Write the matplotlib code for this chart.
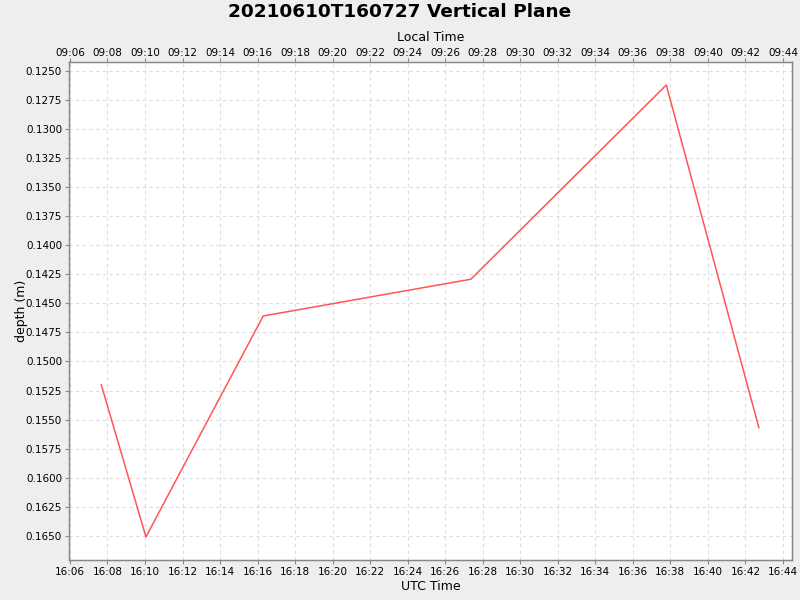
import matplotlib
matplotlib.use("Agg")
import matplotlib.pyplot as plt
import matplotlib.dates as mdates
from datetime import datetime, timedelta

# data (UTC times, depth in metres)
utc_times = ["16:07:40", "16:10:03", "16:16:18", "16:27:22", "16:37:47", "16:42:43"]
depths = [0.15199, 0.16509, 0.14609, 0.14293, 0.12623, 0.15569]
local_offset_hours = -7

day = "2021-06-10 "
times = [datetime.strptime(day + t, "%Y-%m-%d %H:%M:%S") for t in utc_times]

x_start = datetime.strptime(day + "16:05:57", "%Y-%m-%d %H:%M:%S")
x_end = datetime.strptime(day + "16:44:29", "%Y-%m-%d %H:%M:%S")
y_top = 0.12425
y_bottom = 0.16707

fig = plt.figure(figsize=(8, 6), dpi=100, facecolor="#EEEEEE")
ax = fig.add_axes([0.08625, 0.0667, 0.90375, 0.83])
ax.set_facecolor("white")

ax.plot(times, depths, color="#FF5555", linewidth=1.1)

ax.set_xlim(x_start, x_end)
ax.set_ylim(y_bottom, y_top)

ax.xaxis.set_major_locator(mdates.MinuteLocator(byminute=range(0, 60, 2)))
ax.xaxis.set_major_formatter(mdates.DateFormatter("%H:%M"))
ax.set_yticks([0.125 + 0.0025 * i for i in range(17)])
ax.yaxis.set_major_formatter(plt.FormatStrFormatter("%.4f"))

ax.grid(True, color="#DDDDDD", linestyle=(0, (3, 3)), linewidth=0.8)
ax.set_axisbelow(True)

for sp in ax.spines.values():
    sp.set_color("#888888")
    sp.set_linewidth(1)

ax.tick_params(axis="both", labelsize=7.5, length=3, color="#888888", pad=2)
ax.set_xlabel("UTC Time", fontsize=9, labelpad=2)
ax.set_ylabel("depth (m)", fontsize=9, labelpad=-2)

# top axis in local time
ax2 = ax.twiny()
off = timedelta(hours=local_offset_hours)
ax2.set_xlim(x_start + off, x_end + off)
ax2.xaxis.set_major_locator(mdates.MinuteLocator(byminute=range(0, 60, 2)))
ax2.xaxis.set_major_formatter(mdates.DateFormatter("%H:%M"))
ax2.tick_params(axis="x", labelsize=7.5, length=3, color="#888888", pad=0)
for sp in ax2.spines.values():
    sp.set_color("#888888")
ax2.set_xlabel("Local Time", fontsize=9, labelpad=5)

fig.suptitle("20210610T160727 Vertical Plane", fontsize=13.3, fontweight="bold", y=0.995)

fig.savefig("out.png", dpi=100, facecolor=fig.get_facecolor())
